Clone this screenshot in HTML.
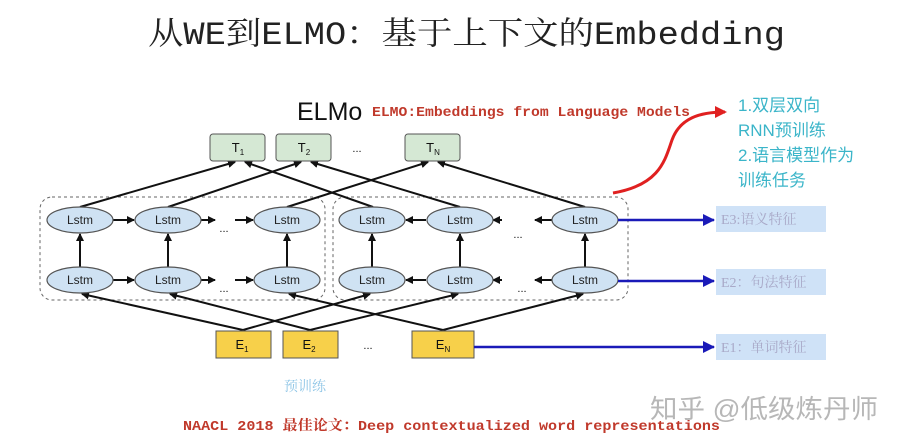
<!DOCTYPE html>
<html><head><meta charset="utf-8"><style>
body{margin:0;background:#fff;}
svg{display:block}
</style></head><body>
<svg width="898" height="448" viewBox="0 0 898 448" xmlns="http://www.w3.org/2000/svg">
<defs>
<marker id="ak" markerWidth="8" markerHeight="8" refX="7" refY="4" orient="auto" markerUnits="userSpaceOnUse"><path d="M0,0 L8,4 L0,8 z" fill="#111"/></marker>
<marker id="ab" markerWidth="12" markerHeight="12" refX="11" refY="6" orient="auto" markerUnits="userSpaceOnUse"><path d="M0,0 L12,6 L0,12 z" fill="#1a1ab8"/></marker>
<marker id="ar" markerWidth="12" markerHeight="12" refX="10" refY="6" orient="auto" markerUnits="userSpaceOnUse"><path d="M0,0 L12,6 L0,12 z" fill="#e02020"/></marker>
</defs>
<text x="148" y="44" textLength="637" lengthAdjust="spacingAndGlyphs" font-family="Liberation Mono,'Noto Serif CJK SC',monospace" font-size="32" fill="#222">从WE到ELMO：基于上下文的Embedding</text>

<text x="297" y="120" font-family="Liberation Sans,sans-serif" font-size="25" fill="#111">ELMo</text>
<text x="372" y="116" textLength="318" lengthAdjust="spacingAndGlyphs" font-family="Liberation Mono,'Noto Serif CJK SC',monospace" font-weight="bold" font-size="14" fill="#c0392b">ELMO:Embeddings from Language Models</text>

<g font-family="'Liberation Sans','Noto Sans CJK SC',sans-serif" font-size="17" fill="#3bb5c9">
<text x="738" y="111">1.双层双向</text>
<text x="738" y="136">RNN预训练</text>
<text x="738" y="161">2.语言模型作为</text>
<text x="738" y="186">训练任务</text>
</g>
<path d="M613,193 C660,185 665,160 672,140 C680,118 700,112 725,112" fill="none" stroke="#e02020" stroke-width="3" marker-end="url(#ar)"/>

<rect x="40" y="197" width="285" height="103" rx="12" fill="none" stroke="#666" stroke-dasharray="3,3"/>
<rect x="333" y="197" width="295" height="103" rx="12" fill="none" stroke="#666" stroke-dasharray="3,3"/>

<g stroke="#111" stroke-width="2" marker-end="url(#ak)">
<line x1="80" y1="207" x2="235" y2="162"/>
<line x1="373" y1="207" x2="245" y2="162"/>
<line x1="168" y1="207" x2="301" y2="162"/>
<line x1="460" y1="207" x2="311" y2="162"/>
<line x1="287" y1="207" x2="428" y2="162"/>
<line x1="585" y1="207" x2="438" y2="162"/>
<line x1="243" y1="330" x2="82" y2="294"/>
<line x1="243" y1="330" x2="370" y2="294"/>
<line x1="310" y1="330" x2="170" y2="294"/>
<line x1="310" y1="330" x2="458" y2="294"/>
<line x1="443" y1="330" x2="289" y2="294"/>
<line x1="443" y1="330" x2="583" y2="294"/>
<line x1="80" y1="267" x2="80" y2="234"/>
<line x1="168" y1="267" x2="168" y2="234"/>
<line x1="287" y1="267" x2="287" y2="234"/>
<line x1="372" y1="267" x2="372" y2="234"/>
<line x1="460" y1="267" x2="460" y2="234"/>
<line x1="585" y1="267" x2="585" y2="234"/>
<line x1="113" y1="220" x2="134" y2="220"/>
<line x1="113" y1="280" x2="134" y2="280"/>
<line x1="201" y1="220" x2="215" y2="220"/>
<line x1="201" y1="280" x2="215" y2="280"/>
<line x1="235" y1="220" x2="253" y2="220"/>
<line x1="235" y1="280" x2="253" y2="280"/>
<line x1="426" y1="220" x2="406" y2="220"/>
<line x1="426" y1="280" x2="406" y2="280"/>
<line x1="502" y1="220" x2="493" y2="220"/>
<line x1="502" y1="280" x2="493" y2="280"/>
<line x1="552" y1="220" x2="535" y2="220"/>
<line x1="552" y1="280" x2="535" y2="280"/>
</g>

<g fill="#d5e8d4" stroke="#555" stroke-width="1">
<rect x="210" y="134" width="55" height="27" rx="3"/>
<rect x="276" y="134" width="55" height="27" rx="3"/>
<rect x="405" y="134" width="55" height="27" rx="3"/>
</g>
<g fill="#f7d04a" stroke="#555" stroke-width="1">
<rect x="216" y="331" width="55" height="27"/>
<rect x="283" y="331" width="55" height="27"/>
<rect x="412" y="331" width="62" height="27"/>
</g>
<g font-family="Liberation Sans,sans-serif" font-size="13" fill="#111" text-anchor="middle">
<text x="238" y="152">T<tspan font-size="8" dy="3">1</tspan></text>
<text x="304" y="152">T<tspan font-size="8" dy="3">2</tspan></text>
<text x="433" y="152">T<tspan font-size="8" dy="3">N</tspan></text>
<text x="357" y="152" font-size="11">...</text>
<text x="242" y="349">E<tspan font-size="8" dy="3">1</tspan></text>
<text x="309" y="349">E<tspan font-size="8" dy="3">2</tspan></text>
<text x="443" y="349">E<tspan font-size="8" dy="3">N</tspan></text>
<text x="368" y="349" font-size="11">...</text>
<text x="224" y="232" font-size="11">...</text>
<text x="224" y="292" font-size="11">...</text>
<text x="518" y="238" font-size="11">...</text>
<text x="522" y="292" font-size="11">...</text>
</g>

<g fill="#cfe2f3" stroke="#555" stroke-width="1.2">
<ellipse cx="80" cy="220" rx="33" ry="13"/><ellipse cx="168" cy="220" rx="33" ry="13"/><ellipse cx="287" cy="220" rx="33" ry="13"/>
<ellipse cx="372" cy="220" rx="33" ry="13"/><ellipse cx="460" cy="220" rx="33" ry="13"/><ellipse cx="585" cy="220" rx="33" ry="13"/>
<ellipse cx="80" cy="280" rx="33" ry="13"/><ellipse cx="168" cy="280" rx="33" ry="13"/><ellipse cx="287" cy="280" rx="33" ry="13"/>
<ellipse cx="372" cy="280" rx="33" ry="13"/><ellipse cx="460" cy="280" rx="33" ry="13"/><ellipse cx="585" cy="280" rx="33" ry="13"/>
</g>
<g font-family="Liberation Sans,sans-serif" font-size="12" fill="#222" text-anchor="middle">
<text x="80" y="224">Lstm</text><text x="168" y="224">Lstm</text><text x="287" y="224">Lstm</text>
<text x="372" y="224">Lstm</text><text x="460" y="224">Lstm</text><text x="585" y="224">Lstm</text>
<text x="80" y="284">Lstm</text><text x="168" y="284">Lstm</text><text x="287" y="284">Lstm</text>
<text x="372" y="284">Lstm</text><text x="460" y="284">Lstm</text><text x="585" y="284">Lstm</text>
</g>

<g stroke="#1a1ab8" stroke-width="2.5" marker-end="url(#ab)">
<line x1="618" y1="220" x2="714" y2="220"/>
<line x1="618" y1="281" x2="714" y2="281"/>
<line x1="474" y1="347" x2="714" y2="347"/>
</g>
<g fill="#cfe2f7">
<rect x="716" y="206" width="110" height="26"/>
<rect x="716" y="269" width="110" height="26"/>
<rect x="716" y="334" width="110" height="26"/>
</g>
<g font-family="Liberation Serif,'Noto Serif CJK SC',serif" font-size="14" fill="#a9a9c8">
<text x="721" y="224">E3:语义特征</text>
<text x="721" y="287">E2：句法特征</text>
<text x="721" y="352">E1：单词特征</text>
</g>

<text x="305" y="391" text-anchor="middle" font-family="'Noto Serif CJK SC',serif" font-size="14" fill="#8ec5e6">预训练</text>
<text x="183" y="430" textLength="537" lengthAdjust="spacingAndGlyphs" font-family="Liberation Mono,'Noto Serif CJK SC',monospace" font-weight="bold" font-size="14" fill="#c0392b">NAACL 2018 最佳论文：Deep contextualized word representations</text>
<text x="650" y="418" textLength="228" lengthAdjust="spacingAndGlyphs" font-family="'Liberation Sans','Noto Sans CJK SC',sans-serif" font-size="26" fill="#aaa" fill-opacity="0.85">知乎 @低级炼丹师</text>
</svg>
</body></html>
